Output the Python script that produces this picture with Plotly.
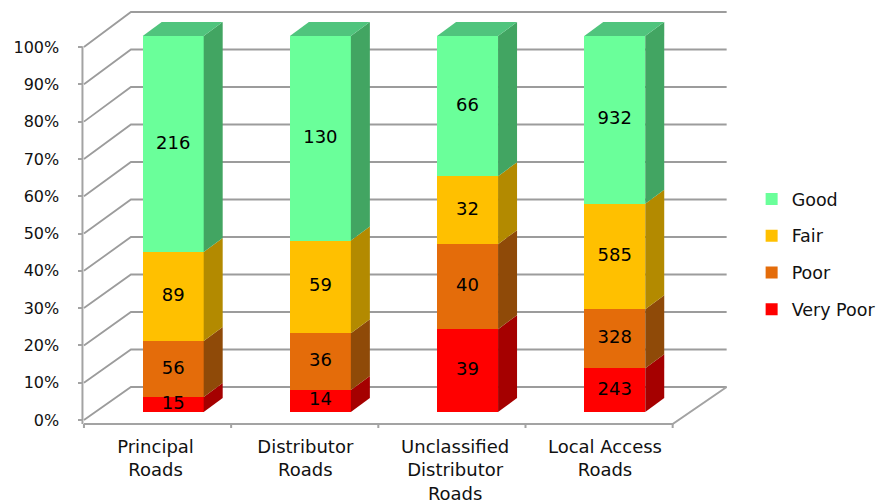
import numpy as np
import plotly.graph_objects as go

# ---------------- data ----------------
categories = ["Principal Roads", "Distributor Roads",
              "Unclassified Distributor Roads", "Local Access Roads"]
tick_labels = ["Principal<br>Roads", "Distributor<br>Roads",
               "Unclassified<br>Distributor<br>Roads", "Local Access<br>Roads"]
series_names = ["Very Poor", "Poor", "Fair", "Good"]
very_poor = [15, 14, 39, 243]
poor = [56, 36, 40, 328]
fair = [89, 59, 32, 585]
good = [216, 130, 66, 932]
y_ticks = [0, 10, 20, 30, 40, 50, 60, 70, 80, 90, 100]
y_tick_labels = [f"{v}%" for v in y_ticks]

# ---------------- styles ----------------
front_colors = ["#FF0000", "#E46C0A", "#FFC000", "#6AFF9A"]
side_colors = ["#A50000", "#8F4A08", "#B38A00", "#42A562"]
top_color = "#50C47D"
grid_color = "#9C9C9C"
FONT = "DejaVu Sans"

# ---------------- geometry (pixel layout) ----------------
W, H = 881, 504
WEFF = W * 0.988        # compensates the horizontal scale seen in the rendering
XD = (70, 760)
YD = (4, 436)
FX0, FSX = 84.0, 147.25
FY0, FSY = 420.0, 3.73
BY0, BSY = 412.0, 3.76

xr = [-0.5 + (XD[0] - FX0) / FSX, -0.5 + (XD[1] - FX0) / FSX]
yr = [(FY0 - YD[1]) / FSY, (FY0 - YD[0]) / FSY]
y2r = [(BY0 - YD[1]) / BSY, (BY0 - YD[0]) / BSY]

def px_y(p):
    return (FY0 - p) / FSY

bar_shift = (173.3 - FX0) / FSX - 0.5
bar_w = 61 / FSX
depth_dx = 19 / FSX
depth_dy = 14 / BSY

back_left = -0.5 + 47 / FSX
back_right = 3.5 + 54 / FSX
back_y0 = px_y(387)
back_scale = (387 - 12) / 100 / FSY
floor_y = px_y(424)
label_spread = 1.018
label_shift = 0.013

counts = np.array([very_poor, poor, fair, good], dtype=float)
pct = counts / counts.sum(axis=0) * 100
cum_top = np.cumsum(pct, axis=0)
cum_bot = cum_top - pct
xpos = np.arange(len(categories))
label_pos = 1.5 + (xpos - 1.5) * label_spread + label_shift

fig = go.Figure()

# walls / gridlines
gx, gy = [], []
for v in y_ticks:
    yb = back_y0 + v * back_scale
    gx += [-0.5, back_left, back_right, None]
    gy += [v, yb, yb, None]
fig.add_trace(go.Scatter(x=gx, y=gy, mode="lines",
                         line=dict(color=grid_color, width=1.8),
                         hoverinfo="skip", showlegend=False))
ax, ay = [], []
ax += [-0.5, 3.5, back_right, None]
ay += [floor_y, floor_y, back_y0, None]
ax += [-0.5 - 1.5 / FSX, -0.5 - 1.5 / FSX, None]
ay += [floor_y, 100 + 0.2, None]
for k in range(5):
    ax += [-0.5 + k, -0.5 + k, None]
    ay += [floor_y, floor_y - 4 / FSY, None]
fig.add_trace(go.Scatter(x=ax, y=ay, mode="lines",
                         line=dict(color="#A3A3A3", width=2),
                         hoverinfo="skip", showlegend=False))

# bars (front faces)
for j, name in enumerate(series_names):
    fig.add_trace(go.Bar(
        x=xpos, y=counts[j], name=name, xaxis="x", yaxis="y2",
        width=bar_w, offset=bar_shift - bar_w / 2,
        marker=dict(color=front_colors[j], line=dict(width=0)),
        legendgroup=name, legendrank=len(series_names) - j,
        hoverinfo="skip"))

# side & top faces
for i in range(len(categories)):
    xl = xpos[i] + bar_shift - bar_w / 2
    xrt = xl + bar_w
    for j in range(len(series_names)):
        b, t = cum_bot[j, i], cum_top[j, i]
        fig.add_trace(go.Scatter(
            x=[xrt, xrt + depth_dx, xrt + depth_dx, xrt, xrt],
            y=[b, b + depth_dy, t + depth_dy, t, b],
            xaxis="x", yaxis="y2", mode="lines", fill="toself",
            fillcolor=side_colors[j], line=dict(width=0),
            hoverinfo="skip", showlegend=False))
    t = cum_top[-1, i]
    fig.add_trace(go.Scatter(
        x=[xl, xrt, xrt + depth_dx, xl + depth_dx, xl],
        y=[t, t, t + depth_dy, t + depth_dy, t],
        xaxis="x", yaxis="y2", mode="lines", fill="toself",
        fillcolor=top_color, line=dict(width=0),
        hoverinfo="skip", showlegend=False))

# data labels
for j in range(len(series_names)):
    fig.add_trace(go.Scatter(
        x=xpos + bar_shift, y=(cum_bot[j] + cum_top[j]) / 2,
        xaxis="x", yaxis="y2", mode="text",
        text=[str(int(c)) for c in counts[j]],
        textfont=dict(family=FONT, size=18, color="#000000"),
        hoverinfo="skip", showlegend=False))

fig.update_layout(
    width=W, height=H,
    margin=dict(l=0, r=0, t=0, b=0),
    paper_bgcolor="white", plot_bgcolor="white",
    barmode="stack", barnorm="percent",
    font=dict(family=FONT, size=15, color="#000000"),
    xaxis=dict(domain=[XD[0] / WEFF, XD[1] / WEFF], range=xr,
               anchor="free", position=(H - 424) / H,
               tickmode="array", tickvals=list(label_pos), ticktext=tick_labels,
               ticks="", showgrid=False, zeroline=False, showline=False,
               tickfont=dict(family=FONT, size=18, color="#111111"),
               ticklabelstandoff=10),
    yaxis=dict(domain=[(H - YD[1]) / H, (H - YD[0]) / H], range=yr,
               anchor="free", position=82.5 / WEFF,
               tickmode="array", tickvals=y_ticks, ticktext=y_tick_labels,
               ticks="outside", ticklen=4, tickwidth=2, tickcolor="#A3A3A3",
               showgrid=False, zeroline=False, showline=False,
               tickfont=dict(family=FONT, size=16, color="#111111"),
               ticklabelstandoff=16),
    yaxis2=dict(domain=[(H - YD[1]) / H, (H - YD[0]) / H], range=y2r,
                overlaying="y", visible=False, showgrid=False, zeroline=False),
    legend=dict(x=752 / WEFF, xanchor="left", y=(H - 254) / H, yanchor="middle",
                traceorder="grouped", tracegroupgap=11,
                font=dict(family=FONT, size=17.5, color="#111111"),
                bgcolor="rgba(0,0,0,0)"),
    showlegend=True,
)

fig.write_html("out.html")
